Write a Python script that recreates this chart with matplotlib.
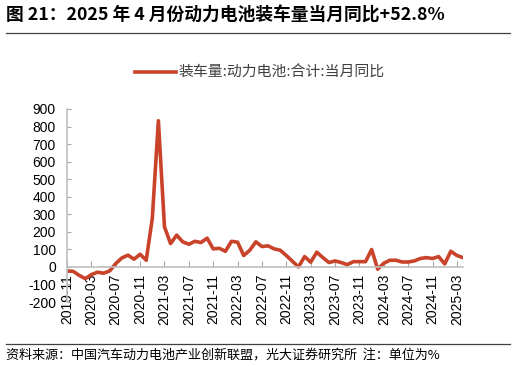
import matplotlib
matplotlib.use("Agg")
import matplotlib.pyplot as plt
from matplotlib.lines import Line2D

plt.rcParams['font.family'] = ['Liberation Sans', 'Noto Sans CJK SC', 'DejaVu Sans']
plt.rcParams['axes.unicode_minus'] = False

# monthly YoY growth of power battery installations, %, 2019-11 .. 2025-04
months = ['2019-11', '2019-12',
          '2020-01', '2020-02', '2020-03', '2020-04', '2020-05', '2020-06',
          '2020-07', '2020-08', '2020-09', '2020-10', '2020-11', '2020-12',
          '2021-01', '2021-02', '2021-03', '2021-04', '2021-05', '2021-06',
          '2021-07', '2021-08', '2021-09', '2021-10', '2021-11', '2021-12',
          '2022-01', '2022-02', '2022-03', '2022-04', '2022-05', '2022-06',
          '2022-07', '2022-08', '2022-09', '2022-10', '2022-11', '2022-12',
          '2023-01', '2023-02', '2023-03', '2023-04', '2023-05', '2023-06',
          '2023-07', '2023-08', '2023-09', '2023-10', '2023-11', '2023-12',
          '2024-01', '2024-02', '2024-03', '2024-04', '2024-05', '2024-06',
          '2024-07', '2024-08', '2024-09', '2024-10', '2024-11', '2024-12',
          '2025-01', '2025-02', '2025-03', '2025-04']
yoy = [-23, -25,
       -48, -67, -44, -30, -36, -23,
       19, 51, 67, 44, 72, 38,
       276, 833, 228, 133, 181, 143,
       129, 146, 139, 164, 103, 106,
       89, 146, 141, 65, 95, 143,
       116, 120, 103, 95, 65, 32,
       0, 59, 27, 84, 53, 25,
       34, 25, 13, 30, 30, 30,
       99, -13, 21, 38, 38, 28,
       28, 34, 48, 53, 48, 59,
       17, 89, 65, 52.8]

title = '图 21：2025 年 4 月份动力电池装车量当月同比+52.8%'
series_name = '装车量:动力电池:合计:当月同比'
source = '资料来源：中国汽车动力电池产业创新联盟，光大证券研究所  注：单位为%'

line_color = '#C8432A'
axis_color = '#BFBFBF'
cjk = ['Noto Sans CJK SC', 'DejaVu Sans']

fig = plt.figure(figsize=(5.16, 3.66), dpi=100)
W, H = 516, 366

# title and rules
fig.text(6 / W, 1 - 16 / H, title, fontsize=12.8, fontweight='bold',
         family=cjk, va='center', ha='left')
fig.add_artist(Line2D([6 / W, 510 / W], [1 - 33 / H, 1 - 33 / H], color='#404040', lw=0.9))
fig.add_artist(Line2D([6 / W, 510 / W], [1 - 344 / H, 1 - 344 / H], color='#404040', lw=0.9))
fig.text(6 / W, 1 - 355 / H, source, fontsize=9.4,
         family=cjk, va='center', ha='left')

left, right, top, bottom = 67, 463, 109, 302
ax = fig.add_axes([left / W, 1 - bottom / H, (right - left) / W, (bottom - top) / H])
x = list(range(len(months)))
ax.plot(x, yoy, color=line_color, lw=2.6, solid_joinstyle='round')

ax.set_xlim(0, len(months) - 1)
ax.set_ylim(-200, 900)
ax.set_yticks(range(-200, 901, 100))
ax.set_xticks(x[::4])
ax.set_xticklabels(months[::4])

for s in ['top', 'right']:
    ax.spines[s].set_visible(False)
ax.spines['bottom'].set_position(('data', 0))
ax.spines['bottom'].set_color(axis_color)
ax.spines['left'].set_color(axis_color)
ax.spines['bottom'].set_linewidth(1.2)
ax.spines['left'].set_linewidth(1.2)
ax.tick_params(axis='x', direction='in', length=4, color='#A6A6A6',
               labelsize=10, pad=5, labelrotation=90)
ax.tick_params(axis='y', direction='in', length=3, color='#A6A6A6',
               labelsize=10, pad=8)
ax.patch.set_visible(False)

leg = fig.legend(handles=[Line2D([], [], color=line_color, lw=2.6)], labels=[series_name],
                 loc='center', bbox_to_anchor=(260 / W, 1 - 73 / H), frameon=False,
                 handlelength=2.7, handletextpad=0.2,
                 prop={'family': cjk, 'size': 10.7})
for t in leg.get_texts():
    t.set_color('#404040')

fig.savefig('out.png', dpi=100)
